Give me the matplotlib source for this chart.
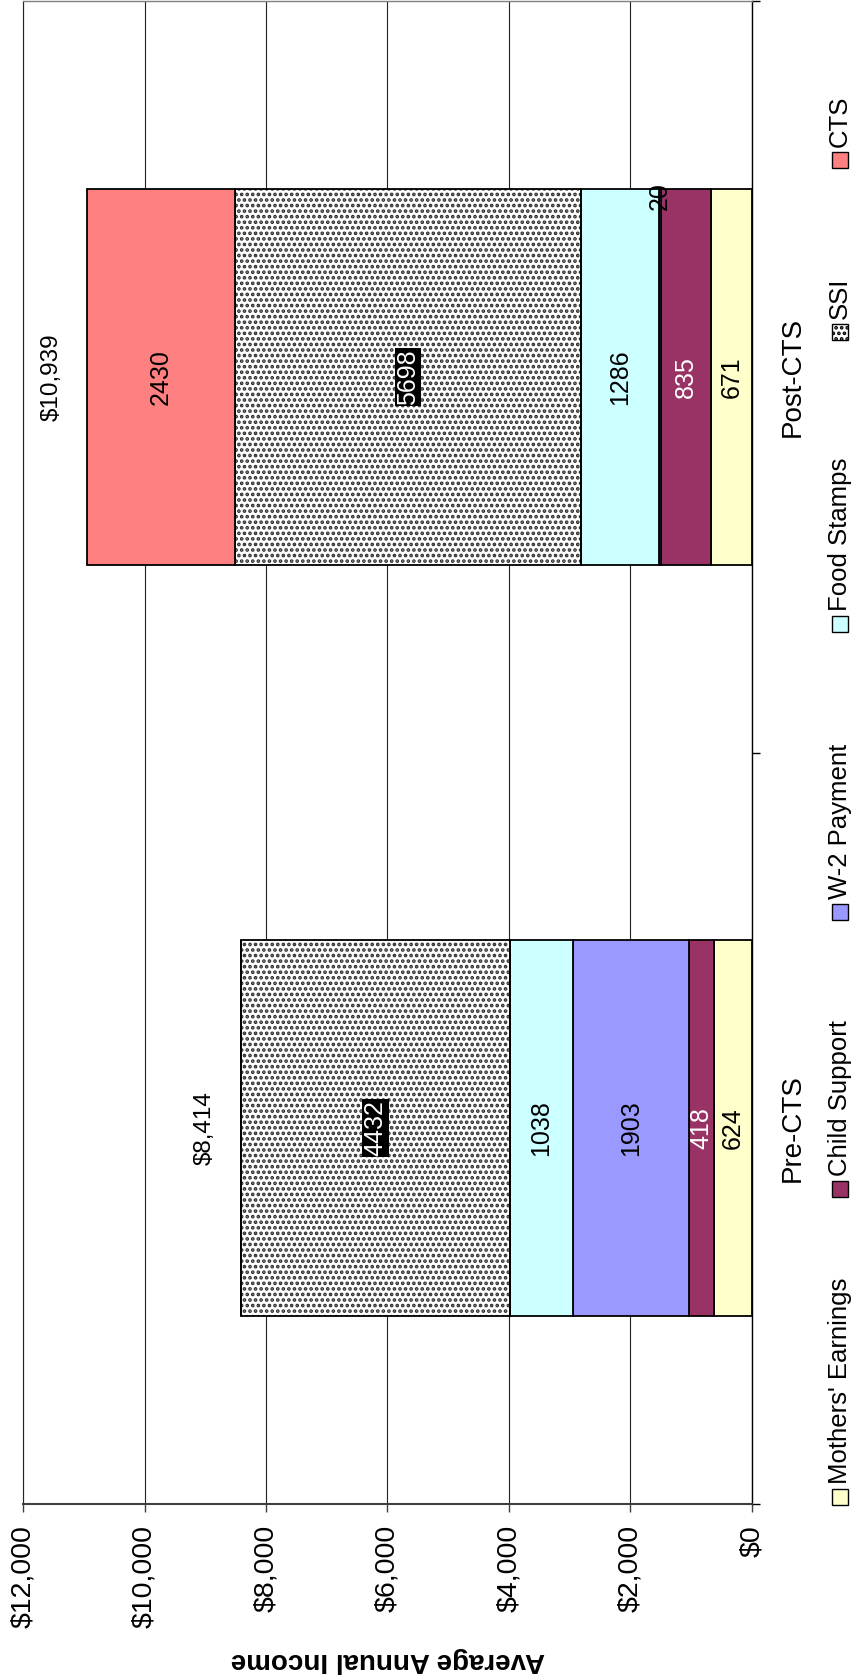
import numpy as np
import matplotlib
matplotlib.use('Agg')
from matplotlib import pyplot as plt
from matplotlib.patches import Rectangle

plt.rcParams['font.family'] = ['Liberation Sans', 'DejaVu Sans']
plt.rcParams['hatch.linewidth'] = 1.8

# data
categories = ['Pre-CTS', 'Post-CTS']
series = ["Mothers' Earnings", 'Child Support', 'W-2 Payment', 'Food Stamps', 'SSI', 'CTS']
mothers = [624, 671]
child = [418, 835]
w2 = [1903, 20]
food = [1038, 1286]
ssi = [4432, 5698]
cts = [0, 2430]
totals = [8414, 10939]
value_ticks = [0, 2000, 4000, 6000, 8000, 10000, 12000]

colors = ['#FFFFCC', '#993366', '#9999FF', '#CCFFFF', 'white', '#FF8080']
label_colors = ['black', 'white', 'black', 'black', 'white', 'black']

W, H = 857, 1680
fig = plt.figure(figsize=(W / 100, H / 100), dpi=100)
ax = fig.add_axes([23 / W, 176 / H, (752 - 23) / W, 1503 / H])

y = np.arange(len(categories))
left = np.zeros(len(categories))
for i, vals in enumerate([mothers, child, w2, food, ssi, cts]):
    vals = np.array(vals, dtype=float)
    if series[i] == 'SSI':
        ax.barh(y, vals, 0.5, left=left, color='white', edgecolor='#2e2e2e',
                hatch='...', linewidth=0, zorder=2)
        ax.barh(y, vals, 0.5, left=left, fill=False, edgecolor='black',
                linewidth=1.3, zorder=3)
    else:
        ax.barh(y, vals, 0.5, left=left, color=colors[i], edgecolor='black',
                linewidth=1.3, zorder=3)
    for j, v in enumerate(vals):
        if v == 0:
            continue
        cx = left[j] + v / 2
        if v < 100:
            ax.annotate(str(int(v)), (cx, y[j] + 0.25), xytext=(0, -5),
                        textcoords='offset points', rotation=90, ha='center',
                        va='center', fontsize=18, color='black', zorder=5)
        elif series[i] == 'SSI':
            ax.text(cx, y[j], str(int(v)), rotation=90, ha='center', va='center',
                    fontsize=18, color='white', zorder=5,
                    bbox=dict(boxstyle='square,pad=0.05', fc='black', ec='none'))
        else:
            ax.text(cx, y[j], str(int(v)), rotation=90, ha='center', va='center',
                    fontsize=18, color=label_colors[i], zorder=5)
    left += vals

for j, t in enumerate(totals):
    ax.annotate('${:,}'.format(t), (t, y[j]), xytext=(-26, 0),
                textcoords='offset points', rotation=90, ha='center',
                va='center', fontsize=17.5)

ax.set_xlim(12000, 0)
ax.set_ylim(-0.5, 1.5)

ax.set_xticks(value_ticks)
ax.set_xticklabels(['${:,}'.format(v) for v in value_ticks])
ax.tick_params(axis='x', direction='out', length=6, width=1, color='#404040',
               labelrotation=90, labelsize=20.5, pad=9)
ax.xaxis.grid(True, color='#222222', linewidth=0.8)
ax.set_axisbelow(True)

ax.yaxis.tick_right()
ax.set_yticks([-0.5, 0.5, 1.5])
ax.set_yticklabels([])
ax.set_yticks(y, minor=True)
ax.set_yticklabels(categories, minor=True)
ax.tick_params(axis='y', which='major', direction='out', length=6, width=1,
               color='black', right=True, left=False)
ax.tick_params(axis='y', which='minor', length=0, labelsize=20, pad=20,
               right=True, left=False)
for lbl in ax.get_yticklabels(minor=True):
    lbl.set_rotation(90)
    lbl.set_va('center')

ax.set_xlabel('Average Annual Income', fontsize=20, fontweight='bold',
              rotation=180, va='center')
ax.xaxis.set_label_coords(0.5, -(1660 - 1504) / 1503)

ax.spines['right'].set_color('black')
ax.spines['right'].set_linewidth(1)
ax.spines['bottom'].set_color('#404040')
ax.spines['bottom'].set_linewidth(1.5)
ax.spines['top'].set_color('#808080')
ax.spines['top'].set_linewidth(1)
ax.spines['left'].set_color('#222222')
ax.spines['left'].set_linewidth(0.8)

# legend, drawn rotated like the rest of the chart
legend_y = [1505, 1197, 920, 632, 340, 168]
for i, name in enumerate(series):
    yb = legend_y[i]
    rect = Rectangle((832 / W, 1 - yb / H), 16 / W, 16 / H, transform=fig.transFigure,
                     facecolor=colors[i], edgecolor='black', linewidth=1)
    if name == 'SSI':
        rect.set_hatch('...')
    fig.add_artist(rect)
    fig.text(840 / W, 1 - (yb - 21) / H, name, rotation=90, ha='center',
             va='bottom', fontsize=18.5)

fig.savefig('out.png', dpi=100)
